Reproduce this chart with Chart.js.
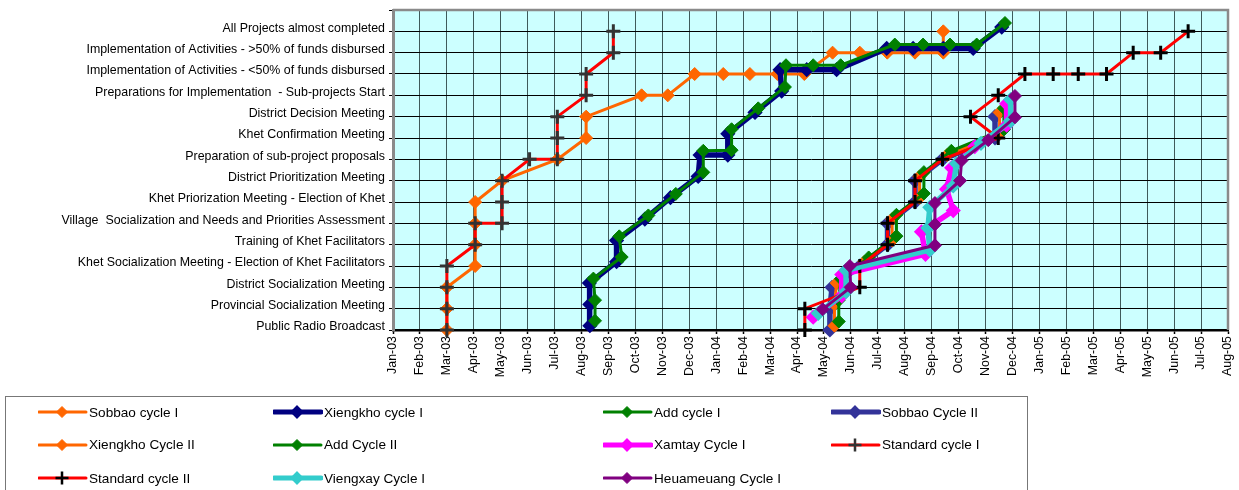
<!DOCTYPE html>
<html>
<head>
<meta charset="utf-8">
<script src="https://cdn.jsdelivr.net/npm/chart.js@4.4.1/dist/chart.umd.min.js"></script>
<style>
  body { margin: 0; background: #fff; font-family: Arial, "Liberation Sans", sans-serif; }
  #wrap { position: relative; width: 1239px; height: 490px; overflow: hidden; }
  #legend { position: absolute; left: 5px; top: 396px; width: 1023px; height: 120px; border: 1.5px solid #777; box-sizing: border-box; }
  .item { position: absolute; height: 18px; display: flex; align-items: center; font-size: 13.6px; color: #000; white-space: nowrap; }
  .item svg { margin-right: 1px; }
</style>
</head>
<body>
<div id="wrap">
  <canvas id="chart" width="1239" height="490"></canvas>
  <div id="legend"></div>
</div>
<script>
// y = project stage (0 = bottom), x = months counted from Jan-03
const stages = [
  "Public Radio Broadcast",
  "Provincial Socialization Meeting",
  "District Socialization Meeting",
  "Khet Socialization Meeting - Election of Khet Facilitators",
  "Training of Khet Facilitators",
  "Village  Socialization and Needs and Priorities Assessment",
  "Khet Priorization Meeting - Election of Khet",
  "District Prioritization Meeting",
  "Preparation of sub-project proposals",
  "Khet Confirmation Meeting",
  "District Decision Meeting",
  "Preparations for Implementation  - Sub-projects Start",
  "Implementation of Activities - <50% of funds disbursed",
  "Implementation of Activities - >50% of funds disbursed",
  "All Projects almost completed"
];

const months = [
  "Jan-03", "Feb-03", "Mar-03", "Apr-03", "May-03", "Jun-03", "Jul-03", "Aug-03",
  "Sep-03", "Oct-03", "Nov-03", "Dec-03", "Jan-04", "Feb-04", "Mar-04", "Apr-04",
  "May-04", "Jun-04", "Jul-04", "Aug-04", "Sep-04", "Oct-04", "Nov-04", "Dec-04",
  "Jan-05", "Feb-05", "Mar-05", "Apr-05", "May-05", "Jun-05", "Jul-05", "Aug-05"
];

// [month, stage] pairs
const sobbaoCycle1 = [[2.0,0],[2.0,1],[2.0,2],[3.05,3],[3.05,4],[3.05,5],[3.05,6],[4.05,7],[6.1,8],[7.17,9],[7.17,10],[9.23,11],[10.2,11],[11.2,12],[12.26,12],[13.25,12],[14.27,12],[15.27,12],[16.32,13],[17.33,13],[18.35,13],[19.38,13],[20.43,13],[20.43,14]];
const xiengkhoCycle1 = [[7.31,0.2],[7.31,1.2],[7.29,2.2],[8.3,3.2],[8.3,4.2],[9.35,5.2],[10.3,6.2],[11.33,7.2],[11.4,8.2],[12.43,8.2],[12.43,9.2],[13.44,10.2],[14.43,11.2],[14.37,12.2],[15.36,12.2],[16.47,12.2],[18.33,13.2],[19.31,13.2],[20.43,13.2],[21.54,13.2],[22.6,14.2]];
const addCycle1 = [[7.5,0.43],[7.5,1.4],[7.44,2.41],[8.49,3.42],[8.4,4.39],[9.48,5.37],[10.5,6.38],[11.52,7.39],[11.52,8.4],[12.57,8.43],[12.57,9.41],[13.56,10.39],[14.55,11.39],[14.59,12.41],[15.6,12.41],[16.62,12.41],[18.63,13.38],[19.68,13.38],[20.68,13.38],[21.67,13.38],[22.72,14.39]];
const sobbaoCycle2 = [[16.22,0],[16.22,1],[16.3,2],[17.33,3],[18.36,4],[18.36,5],[19.38,6],[19.38,7],[20.4,8],[22.35,9],[22.35,10]];
const xiengkhoCycle2 = [[16.39,0.2],[16.39,1.2],[16.47,2.2],[17.5,3.2],[18.53,4.2],[18.53,5.2],[19.55,6.2],[19.55,7.2],[20.57,8.2],[22.52,9.2],[22.52,10.2]];
const addCycle2 = [[16.55,0.4],[16.55,1.4],[16.63,2.4],[17.66,3.4],[18.69,4.4],[18.69,5.4],[19.71,6.4],[19.71,7.4],[20.73,8.4],[22.68,9.4],[22.68,10.4]];
const xamtayCycle1 = [[15.6,0.6],[16.66,1.6],[16.66,2.6],[19.77,3.55],[19.62,4.6],[20.8,5.6],[20.55,6.6],[20.74,7.6],[21.6,8.6],[22.78,9.6],[22.78,10.6]];
const standardCycle1 = [[2.0,0],[2.0,1],[2.0,2],[2.0,3],[3.05,4],[3.05,5],[4.05,5],[4.05,6],[4.05,7],[5.07,8],[6.1,8],[6.1,9],[6.1,10],[7.17,11],[7.17,12],[8.18,13],[8.18,14]];
const standardCycle2 = [[15.29,0],[15.29,1],[17.33,2],[17.33,3],[18.36,4],[18.36,5],[19.38,6],[19.38,7],[20.4,8],[22.47,9],[21.44,10],[22.47,11],[23.46,12],[24.51,12],[25.44,12],[26.49,12],[27.48,13],[28.5,13],[29.52,14]];
const viengxayCycle1 = [[15.79,0.78],[16.82,1.8],[16.82,2.8],[19.93,3.75],[19.86,4.78],[19.93,5.75],[20.8,6.75],[20.92,7.8],[21.83,8.75],[22.93,9.8],[22.93,10.8]];
const heuameuangCycle1 = [[15.95,0.97],[16.99,2.0],[16.96,3.0],[20.12,3.97],[20.12,4.95],[20.12,5.95],[21.05,7.0],[21.11,7.95],[22.1,8.9],[23.09,9.97],[23.09,10.97]];

const seriesNames = [
  "Sobbao cycle I", "Xiengkho cycle I", "Add cycle I", "Sobbao Cycle II",
  "Xiengkho Cycle II", "Add Cycle II", "Xamtay Cycle I", "Standard cycle I",
  "Standard cycle II", "Viengxay Cycle I", "Heuameuang Cycle I"
];
const seriesData = [
  sobbaoCycle1, xiengkhoCycle1, addCycle1, sobbaoCycle2,
  xiengkhoCycle2, addCycle2, xamtayCycle1, standardCycle1,
  standardCycle2, viengxayCycle1, heuameuangCycle1
];

// line colour, marker colour, line width, marker
const thin = 3, thick = 5.5;
const seriesStyles = [
  { line: "#FF6600", mark: "#FF6600", width: thin,  marker: "rectRot", radius: 6.5, pbw: 1 },
  { line: "#000080", mark: "#000080", width: thick, marker: "rectRot", radius: 5.5, pbw: 3 },
  { line: "#008000", mark: "#008000", width: thin,  marker: "rectRot", radius: 6.5, pbw: 1 },
  { line: "#333399", mark: "#333399", width: thick, marker: "rectRot", radius: 5.5, pbw: 3 },
  { line: "#FF6600", mark: "#FF6600", width: thin,  marker: "rectRot", radius: 6.5, pbw: 1 },
  { line: "#008000", mark: "#008000", width: thin,  marker: "rectRot", radius: 6.5, pbw: 1 },
  { line: "#FF00FF", mark: "#FF00FF", width: thick, marker: "rectRot", radius: 5.5, pbw: 3 },
  { line: "#FF0000", mark: "#333333", width: thin,  marker: "cross",   radius: 7, pbw: 3 },
  { line: "#FF0000", mark: "#000000", width: thin,  marker: "cross",   radius: 7, pbw: 3 },
  { line: "#33CCCC", mark: "#33CCCC", width: thick, marker: "rectRot", radius: 5.5, pbw: 3 },
  { line: "#800080", mark: "#800080", width: thin,  marker: "rectRot", radius: 6.5, pbw: 1 }
];

const plotFrame = {
  id: "plotFrame",
  beforeDraw(chart) {
    const { ctx, chartArea: a } = chart;
    ctx.save();
    ctx.fillStyle = "#CCFFFF";
    ctx.fillRect(a.left, a.top, a.right - a.left, a.bottom - a.top);
    ctx.restore();
  },
  beforeDatasetsDraw(chart) {
    const { ctx, chartArea: a } = chart;
    ctx.save();
    ctx.strokeStyle = "#8a8a8a";
    ctx.lineWidth = 2.5;
    ctx.beginPath();
    ctx.moveTo(a.left, a.top);
    ctx.lineTo(a.right, a.top);
    ctx.lineTo(a.right, a.bottom);
    ctx.stroke();
    ctx.restore();
  }
};

const axisFont = { family: "Arial, 'Liberation Sans', sans-serif", size: 12.4 };

new Chart(document.getElementById("chart"), {
  type: "scatter",
  data: {
    datasets: seriesNames.map((name, i) => {
      const s = seriesStyles[i];
      return {
        label: name,
        data: seriesData[i].map(p => ({ x: p[0], y: p[1] })),
        showLine: true,
        tension: 0,
        borderColor: s.line,
        backgroundColor: s.mark,
        borderWidth: s.width,
        pointStyle: s.marker,
        pointRadius: s.radius,
        pointBorderWidth: s.pbw,
        pointBackgroundColor: s.mark,
        pointBorderColor: s.mark,
        order: seriesNames.length - i, // later series on top
        clip: false
      };
    })
  },
  options: {
    responsive: false,
    animation: false,
    events: [],
    layout: { padding: { left: 0, right: 11, top: 8, bottom: 0 } },
    plugins: { legend: { display: false }, tooltip: { enabled: false } },
    scales: {
      x: {
        type: "linear",
        min: 0,
        max: 31,
        afterFit(scale) {
          scale.height = 160;
          scale.paddingLeft = 0;
          scale.paddingRight = 0;
        },
        ticks: {
          stepSize: 1,
          autoSkip: false,
          maxRotation: 90,
          minRotation: 90,
          padding: 2,
          color: "#000",
          font: axisFont,
          callback: v => months[v]
        },
        grid: { color: "#3f5a5a", lineWidth: 1, tickLength: 4, tickColor: "#000", tickWidth: 1.5 },
        border: { color: "#000", width: 2.5 }
      },
      y: {
        type: "linear",
        min: 0,
        max: 15,
        afterFit(scale) {
          scale.width = 393;
          scale.paddingTop = 0;
          scale.paddingBottom = 0;
        },
        ticks: {
          stepSize: 1,
          autoSkip: false,
          padding: 4,
          labelOffset: -3,
          color: "#000",
          font: axisFont,
          callback: v => stages[v] || ""
        },
        grid: { color: "#000", lineWidth: 1, tickLength: 4, tickColor: "#000" },
        border: { color: "#8a8a8a", width: 3 }
      }
    }
  },
  plugins: [plotFrame]
});

// legend box under the chart, four columns
const legendBox = document.getElementById("legend");
const colX = [32, 267, 597, 825];
const rowY = [6, 38.5, 72];
seriesNames.forEach((name, i) => {
  const s = seriesStyles[i];
  const item = document.createElement("div");
  item.className = "item";
  item.style.left = colX[i % 4] + "px";
  item.style.top = rowY[Math.floor(i / 4)] + "px";
  let mark;
  if (s.marker === "cross") {
    mark = `<path d="M24 2.5 V15.5 M17.5 9 H30.5" stroke="${s.mark}" stroke-width="2.5"/>`;
  } else {
    mark = `<polygon points="24,3.5 29.5,9 24,14.5 18.5,9" fill="${s.mark}" stroke="${s.mark}" stroke-width="${s.pbw > 1 ? 2 : 1}"/>`;
  }
  const lw = s.width > thin ? 5 : 3;
  item.innerHTML = `<svg width="50" height="18"><line x1="1" y1="9" x2="48" y2="9" stroke="${s.line}" stroke-width="${lw}" stroke-linecap="round"/>${mark}</svg><span>${name}</span>`;
  legendBox.appendChild(item);
});
</script>
</body>
</html>
